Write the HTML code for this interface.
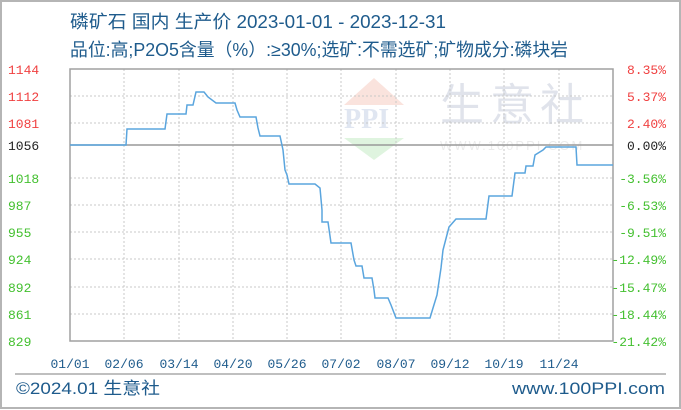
<!DOCTYPE html>
<html><head><meta charset="utf-8"><style>
body{margin:0;background:#fff;}
svg{display:block;font-family:"Liberation Sans","Noto Sans CJK SC",sans-serif;}
.m{font-family:"Liberation Mono","DejaVu Sans Mono",monospace;}
</style></head><body>
<svg width="681" height="410" viewBox="0 0 681 410">
<rect x="1" y="1" width="679" height="407" fill="#fff" stroke="#b5b5b5" stroke-width="2"/>
<text x="70" y="28" font-size="18" fill="#1e5b8c" textLength="376" lengthAdjust="spacingAndGlyphs">磷矿石 国内 生产价 2023-01-01 - 2023-12-31</text>
<text x="70" y="56" font-size="18" fill="#1e5b8c" textLength="498" lengthAdjust="spacingAndGlyphs">品位:高;P2O5含量（%）:≥30%;选矿:不需选矿;矿物成分:磷块岩</text>
<g opacity="0.35">
<polygon points="344,105 374,78 404,105" fill="#f3b0a0"/>
<text x="344" y="128" font-size="28" font-family="Liberation Serif,serif" font-weight="bold" fill="#a8b8d8">PPI</text>
<polygon points="344,138 374,160 404,138" fill="#a6e0a6"/>
<text x="440" y="120" font-size="44" fill="#a8b0c8" letter-spacing="6">生意社</text>
<text x="440" y="150" font-size="13" fill="#c8c8c8" letter-spacing="2">WWW.100PPI.COM</text>
</g>
<g stroke="#c8c8c8" stroke-dasharray="2,2" stroke-width="1">
<line x1="124" y1="69" x2="124" y2="341"/><line x1="179" y1="69" x2="179" y2="341"/><line x1="233" y1="69" x2="233" y2="341"/><line x1="287" y1="69" x2="287" y2="341"/><line x1="341" y1="69" x2="341" y2="341"/><line x1="396" y1="69" x2="396" y2="341"/><line x1="450" y1="69" x2="450" y2="341"/><line x1="504" y1="69" x2="504" y2="341"/><line x1="559" y1="69" x2="559" y2="341"/>
<line x1="70" y1="96" x2="613" y2="96"/><line x1="70" y1="123" x2="613" y2="123"/><line x1="70" y1="178" x2="613" y2="178"/><line x1="70" y1="205" x2="613" y2="205"/><line x1="70" y1="232" x2="613" y2="232"/><line x1="70" y1="259" x2="613" y2="259"/><line x1="70" y1="287" x2="613" y2="287"/><line x1="70" y1="314" x2="613" y2="314"/>
</g>
<rect x="70" y="69" width="543" height="272" fill="none" stroke="#a0a0a0" stroke-width="1.5"/>
<line x1="70" y1="145" x2="613" y2="145" stroke="#999" stroke-width="1.5"/>
<polyline fill="none" stroke="#5aa5de" stroke-width="1.5" points="70,145 126,145 127,129 165,129 167,114 186,114 187,105 193,105 196,92 204,92 208,97 216,103 235,103 237,110 240,117 256,117 258,128 260,136 280,136 283,150 285,170 287,175 289,184 315,184 320,188 322,210 322,222 328,222 331,243 351,243 354,260 356,266 362,266 364,278 372,278 374,290 375,298 388,298 391,305 396,318 430,318 433,308 437,295 441,268 443,250 449,227 456,219 486,219 489,196 512,196 515,173 525,173 526,166 533,166 535,155 543,150 546,147 576,147 577,165 613,165"/>
<g class="m" font-size="13">
<g fill="#f04040"><text x="8" y="74">1144</text><text x="8" y="101">1112</text><text x="8" y="128">1081</text></g>
<text x="8" y="150" fill="#222">1056</text>
<g fill="#44c030"><text x="8" y="183">1018</text><text x="8" y="210">987</text><text x="8" y="237">955</text><text x="8" y="264">924</text><text x="8" y="292">892</text><text x="8" y="319">861</text><text x="8" y="346">829</text></g>
<g fill="#f04040" text-anchor="end"><text x="666" y="74">8.35%</text><text x="666" y="101">5.37%</text><text x="666" y="128">2.40%</text></g>
<text x="666" y="150" fill="#222" text-anchor="end">0.00%</text>
<g fill="#44c030" text-anchor="end"><text x="666" y="183">-3.56%</text><text x="666" y="210">-6.53%</text><text x="666" y="237">-9.51%</text><text x="666" y="264">-12.49%</text><text x="666" y="292">-15.47%</text><text x="666" y="319">-18.44%</text><text x="666" y="346">-21.42%</text></g>
<g fill="#1e5b8c" text-anchor="middle"><text x="70" y="368">01/01</text><text x="124" y="368">02/06</text><text x="179" y="368">03/14</text><text x="233" y="368">04/20</text><text x="287" y="368">05/26</text><text x="341" y="368">07/02</text><text x="396" y="368">08/07</text><text x="450" y="368">09/12</text><text x="504" y="368">10/19</text><text x="559" y="368">11/24</text></g>
</g>
<line x1="15" y1="374" x2="666" y2="374" stroke="#aaa" stroke-width="1.5"/>
<text x="16" y="394" font-size="17" fill="#1e5b8c" textLength="144" lengthAdjust="spacingAndGlyphs">©2024.01 生意社</text>
<text x="512" y="394" font-size="17" fill="#1e5b8c" textLength="153" lengthAdjust="spacingAndGlyphs">www.100PPI.com</text>
</svg>
</body></html>
